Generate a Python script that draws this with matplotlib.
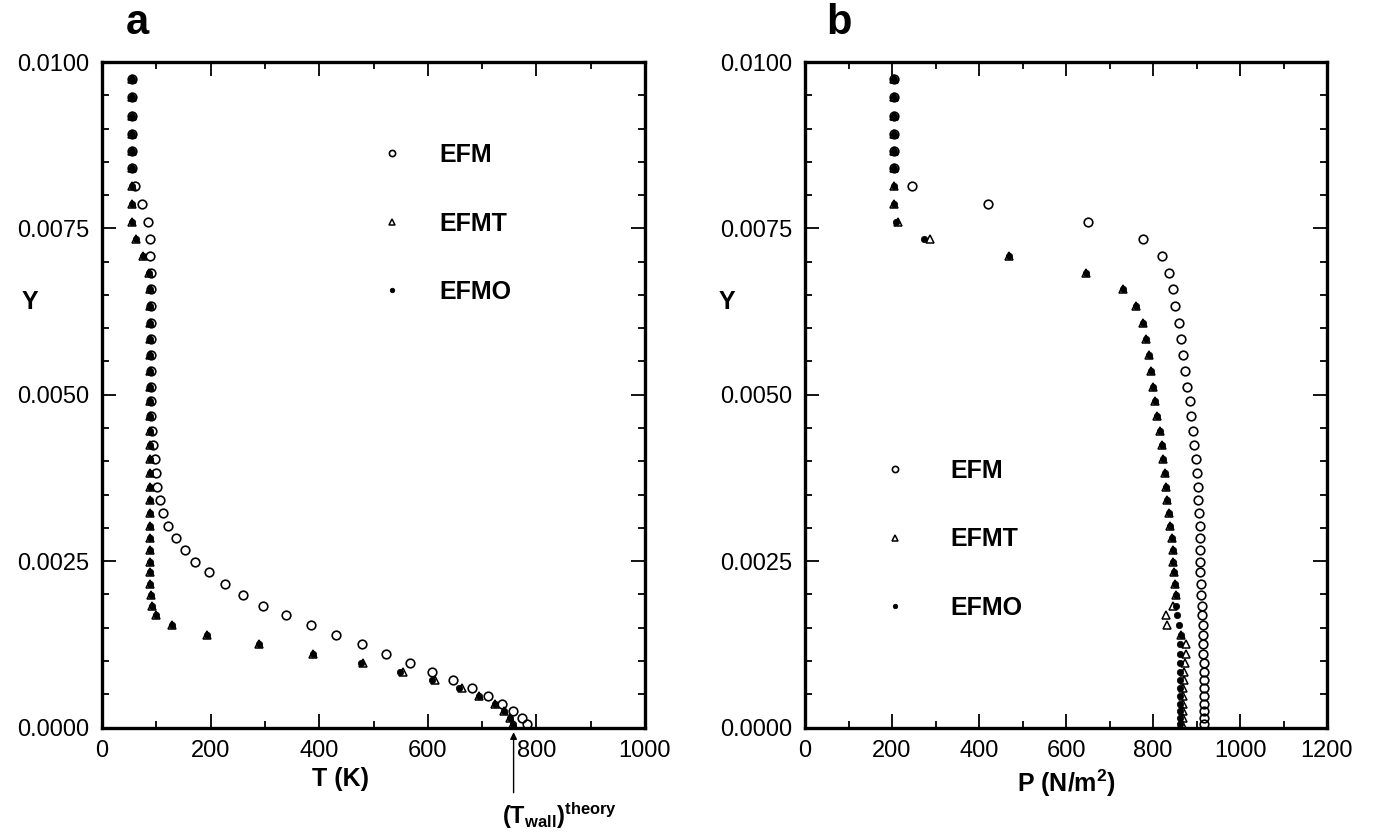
import matplotlib
matplotlib.use("Agg")
import matplotlib.pyplot as plt
from matplotlib.ticker import MultipleLocator, FormatStrFormatter

plt.rcParams['font.family'] = ['Liberation Sans', 'DejaVu Sans']
plt.rcParams['mathtext.fontset'] = 'custom'
plt.rcParams['mathtext.rm'] = 'Liberation Sans'
plt.rcParams['mathtext.bf'] = 'Liberation Sans:bold'
plt.rcParams['mathtext.it'] = 'Liberation Sans:italic'

# ---- data ----
Y = [0.00975, 0.00947, 0.00919, 0.00892, 0.00867, 0.00840, 0.00813, 0.00787, 0.00760, 0.00734,
     0.00708, 0.00683, 0.00659, 0.00633, 0.00608, 0.00584, 0.00560, 0.00536, 0.00512, 0.00490,
     0.00468, 0.00446, 0.00424, 0.00403, 0.00382, 0.00362, 0.00342, 0.00322, 0.00303, 0.00284,
     0.00266, 0.00249, 0.00233, 0.00216, 0.00199, 0.00183, 0.00169, 0.00154, 0.00139, 0.00125,
     0.00110, 0.00097, 0.00084, 0.00072, 0.00060, 0.00048, 0.00036, 0.00025, 0.00015, 0.00005]

T_EFM = [55, 55, 55, 55, 55, 55, 60, 74, 84, 88,
         89, 90, 90, 90, 90, 90, 90, 90, 91, 91,
         91, 92, 94, 97, 100, 102, 106, 113, 122, 136,
         152, 172, 197, 226, 260, 297, 339, 385, 431, 478,
         523, 567, 608, 647, 681, 711, 736, 757, 773, 782]
T_EFMT = [55, 55, 55, 55, 55, 55, 55, 55, 55, 63,
          76, 86, 88, 88, 88, 88, 88, 88, 89, 89,
          89, 89, 89, 89, 89, 89, 89, 89, 89, 89,
          89, 89, 89, 89, 90, 93, 100, 128, 193, 290,
          389, 480, 554, 614, 663, 695, 723, 741, 752, 757]
T_EFMO = [55, 55, 55, 55, 55, 55, 55, 55, 55, 63,
          76, 86, 88, 88, 88, 88, 88, 88, 89, 89,
          89, 89, 89, 89, 89, 89, 89, 89, 89, 89,
          89, 89, 89, 89, 90, 93, 100, 128, 193, 290,
          389, 477, 549, 608, 658, 695, 723, 741, 752, 757]

P_EFM = [205, 205, 205, 205, 205, 205, 246, 421, 650, 776,
         820, 837, 845, 850, 859, 864, 869, 874, 879, 884,
         888, 892, 895, 899, 901, 903, 904, 905, 907, 907,
         908, 908, 909, 910, 911, 912, 913, 914, 915, 916,
         916, 917, 917, 917, 918, 918, 918, 918, 918, 918]
P_EFMT = [205, 205, 205, 205, 205, 205, 204, 205, 213, 288,
          468, 645, 730, 760, 776, 783, 791, 796, 801, 805,
          810, 816, 821, 824, 827, 831, 833, 837, 840, 843,
          845, 847, 849, 850, 852, 847, 830, 832, 864, 876,
          876, 874, 872, 872, 870, 870, 868, 868, 868, 866]
P_EFMO = [205, 205, 205, 205, 205, 205, 204, 205, 209, 274,
          468, 645, 730, 760, 776, 783, 791, 796, 801, 805,
          810, 816, 821, 824, 827, 831, 833, 837, 840, 843,
          845, 847, 849, 850, 852, 853, 855, 860, 864, 862,
          862, 862, 862, 862, 861, 861, 861, 861, 861, 861]

series_labels = ['EFM', 'EFMT', 'EFMO']
T_wall_theory = 758

# ---- figure ----
W, H = 1376, 838
fig = plt.figure(figsize=(W / 100, H / 100), dpi=100)

def px_axes(l, r, t, b):
    return [l / W, 1 - b / H, (r - l) / W, (b - t) / H]

axA = fig.add_axes(px_axes(102, 645, 62, 727.5))
axB = fig.add_axes(px_axes(805, 1327, 62, 727.5))

def style(ax, xmax, xmajor):
    ax.set_xlim(0, xmax)
    ax.set_ylim(0, 0.01)
    ax.xaxis.set_major_locator(MultipleLocator(xmajor))
    ax.xaxis.set_minor_locator(MultipleLocator(xmajor / 2))
    ax.yaxis.set_major_locator(MultipleLocator(0.0025))
    ax.yaxis.set_minor_locator(MultipleLocator(0.0005))
    ax.yaxis.set_major_formatter(FormatStrFormatter('%.4f'))
    ax.tick_params(which='both', direction='in', top=True, right=True,
                   labelsize=17, width=1.3, colors='black')
    ax.tick_params(which='major', length=10, pad=9)
    ax.tick_params(which='minor', length=5)
    for s in ax.spines.values():
        s.set_linewidth(2.4)

def draw(ax, xs_list):
    ax.plot(xs_list[0], Y, linestyle='none', marker='o', ms=6.2, mfc='none',
            mec='black', mew=1.2, label=series_labels[0])
    ax.plot(xs_list[1], Y, linestyle='none', marker='^', ms=6.0, mfc='none',
            mec='black', mew=1.1, label=series_labels[1])
    ax.plot(xs_list[2], Y, linestyle='none', marker='o', ms=4.6, mfc='black',
            mec='black', mew=0.5, label=series_labels[2])

style(axA, 1000, 200)
style(axB, 1200, 200)
draw(axA, [T_EFM, T_EFMT, T_EFMO])
draw(axB, [P_EFM, P_EFMT, P_EFMO])

legA = axA.legend(loc='center left', bbox_to_anchor=(0.5105, 0.757), frameon=False,
                  borderpad=0, borderaxespad=0, handlelength=1.0, handletextpad=1.4,
                  labelspacing=1.78, markerscale=0.72,
                  prop={'weight': 'bold', 'size': 18})
legB = axB.legend(loc='center left', bbox_to_anchor=(0.1485, 0.2825), frameon=False,
                  borderpad=0, borderaxespad=0, handlelength=1.0, handletextpad=1.7,
                  labelspacing=1.78, markerscale=0.72,
                  prop={'weight': 'bold', 'size': 18})

axA.set_xlabel('T (K)', fontsize=18, fontweight='bold')
axA.xaxis.set_label_coords(0.44, -0.06)
axB.set_xlabel('P (N/m$\\mathbf{^2}$)', fontsize=18, fontweight='bold')
axB.xaxis.set_label_coords(0.5, -0.06)
for ax, xc in ((axA, -0.133), (axB, -0.149)):
    ax.set_ylabel('Y', rotation=0, fontsize=18, fontweight='bold', va='center', ha='center')
    ax.yaxis.set_label_coords(xc, 0.64)

# Theory wall temperature marker
axA.annotate('', xy=(T_wall_theory, -0.00007), xycoords=('data', 'data'),
             xytext=(T_wall_theory, -0.00098), textcoords=('data', 'data'),
             arrowprops=dict(arrowstyle='-|>', color='black', lw=1.0,
                             mutation_scale=10, shrinkA=0, shrinkB=0),
             annotation_clip=False)
axA.text(T_wall_theory - 22, -0.00133, r'$\mathbf{(T_{wall})^{theory}}$', fontsize=17,
         ha='left', va='center', clip_on=False)

fig.text(137 / W, 1 - 23 / H, 'a', fontsize=30, fontweight='bold', ha='center', va='center')
fig.text(839 / W, 1 - 23 / H, 'b', fontsize=30, fontweight='bold', ha='center', va='center')

fig.savefig('out.png', dpi=100, facecolor='white')
